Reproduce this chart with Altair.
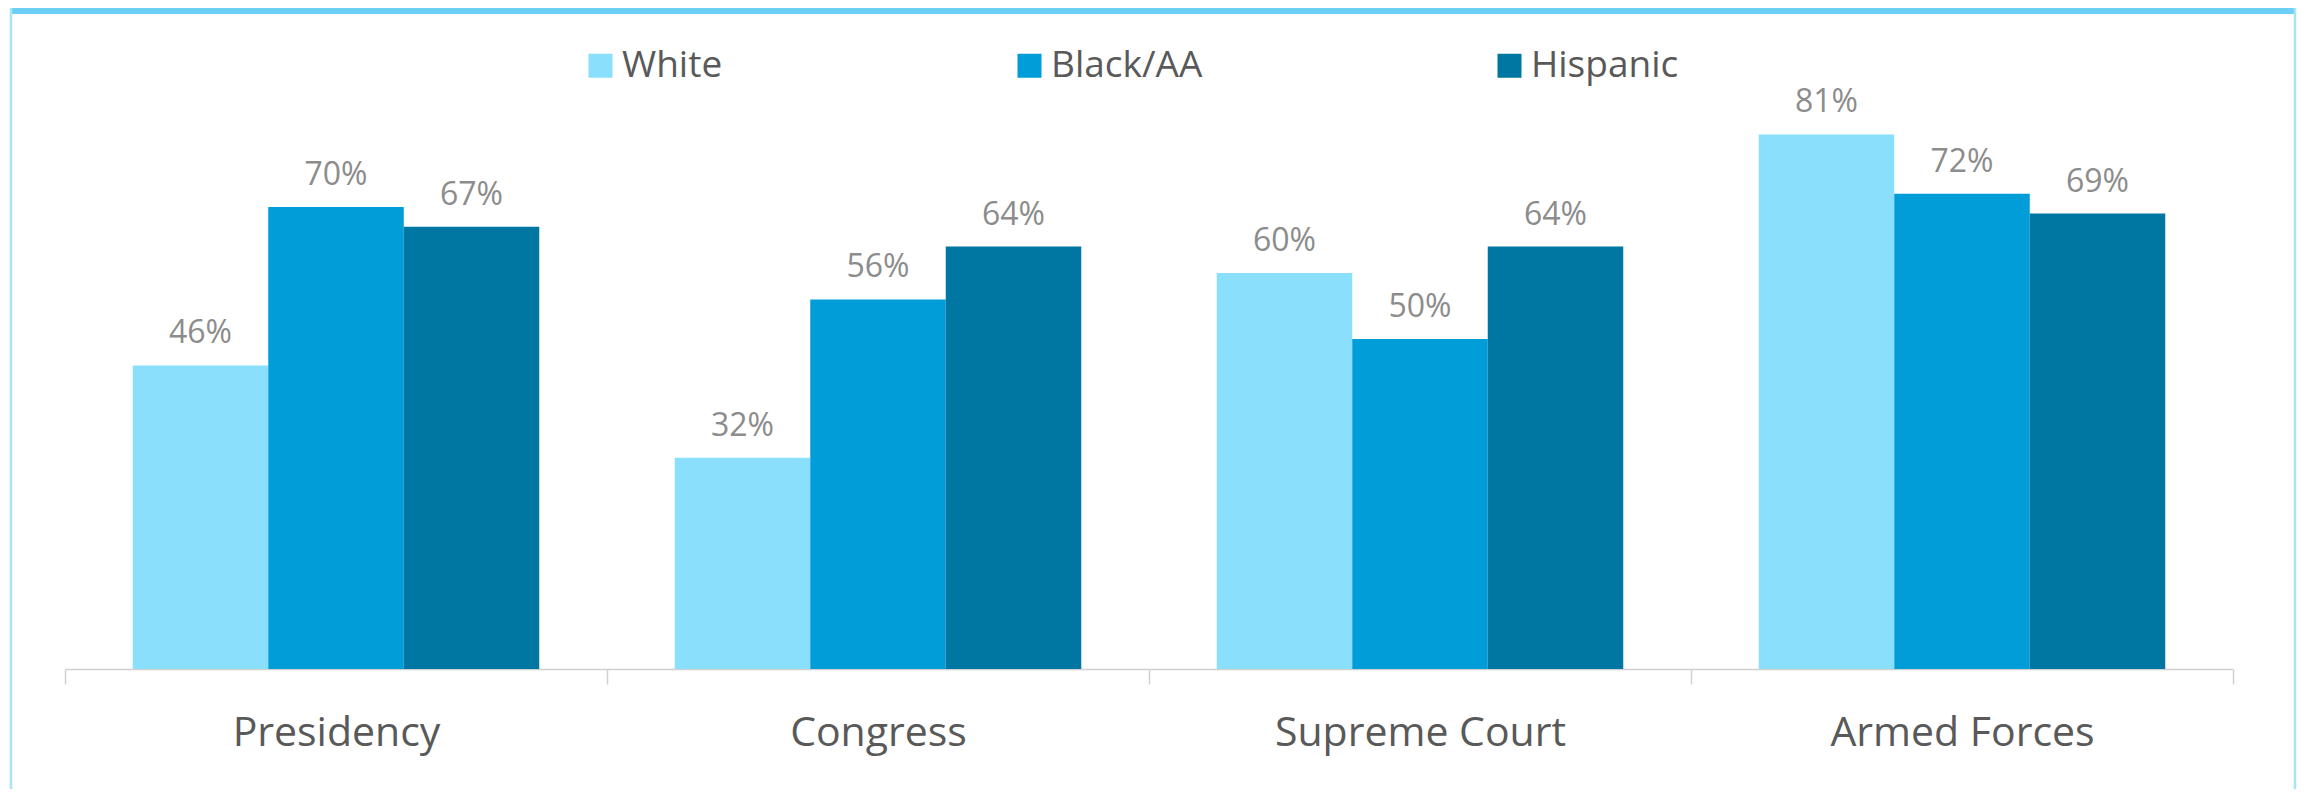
import altair as alt
import pandas as pd

offices = ["Presidency", "Congress", "Supreme Court", "Armed Forces"]
groups = ["White", "Black/AA", "Hispanic"]
white = [0.46, 0.32, 0.60, 0.81]
black = [0.70, 0.56, 0.50, 0.72]
hispanic = [0.67, 0.64, 0.64, 0.69]
colors = ["#8ADFFD", "#019DD8", "#0076A2"]

rows = []
for i, o in enumerate(offices):
    for g, vals in zip(groups, [white, black, hispanic]):
        rows.append({"office": o, "group": g, "value": vals[i]})
df = pd.DataFrame(rows)

W, H = 2168, 594
PL, PT, PR, PB = 57, 67, 65, 120
FONT = "Open Sans"

x = alt.X("office:N", sort=offices, title=None,
          scale=alt.Scale(paddingInner=0, paddingOuter=0),
          axis=alt.Axis(labelAngle=0, labelFont=FONT, labelFontSize=41,
                        labelColor="#595959", labelPadding=29, tickBand="extent",
                        tickSize=15, tickColor="#D0D0D0", domainColor="#D0D0D0",
                        domainWidth=1.5, tickWidth=1.5, labelLimit=0))
xo = alt.XOffset("group:N", sort=groups,
                 scale=alt.Scale(paddingInner=0, paddingOuter=0.5))
y = alt.Y("value:Q", scale=alt.Scale(domain=[0, 0.9]), axis=None)
color = alt.Color("group:N", sort=groups,
                  scale=alt.Scale(domain=groups, range=colors),
                  legend=alt.Legend(orient="none", legendX=517, legendY=-28,
                                    direction="horizontal", columns=3, title=None,
                                    symbolType="square", symbolSize=576,
                                    symbolStrokeWidth=0, labelFont=FONT,
                                    labelFontSize=37, labelColor="#595959",
                                    columnPadding=288, labelOffset=3, padding=0,
                                    labelLimit=0))

bars = alt.Chart(df).mark_bar().encode(x=x, xOffset=xo, y=y, color=color)
labels = alt.Chart(df).mark_text(dy=-22, baseline="alphabetic", font=FONT,
                                 fontSize=32, color="#8C8C8C").encode(
    x=x, xOffset=xo, y=y, text=alt.Text("value:Q", format=".0%"))

one = alt.Data(values=[{"k": 1}])
top_bar = alt.Chart(one).mark_rect(color="#6ECFF6").encode(
    x=alt.value(-PL + 2), x2=alt.value(W + PR - 2), y=alt.value(-PT), y2=alt.value(-PT + 6))
left_edge = alt.Chart(one).mark_rule(color="#A8E4F8", strokeWidth=2.5).encode(
    x=alt.value(-PL + 3), y=alt.value(-PT), y2=alt.value(H + PB))
right_edge = alt.Chart(one).mark_rule(color="#A8E4F8", strokeWidth=2.5).encode(
    x=alt.value(W + PR - 3), y=alt.value(-PT), y2=alt.value(H + PB))

chart = alt.layer(bars, labels, top_bar, left_edge, right_edge).properties(
    width=W, height=H,
    padding={"left": PL, "top": PT, "right": PR, "bottom": PB},
    autosize=alt.AutoSizeParams(type="none"),
    background="white",
).configure_view(strokeWidth=0)

chart.save("out.html", embed_options={"renderer": "svg", "actions": False})
